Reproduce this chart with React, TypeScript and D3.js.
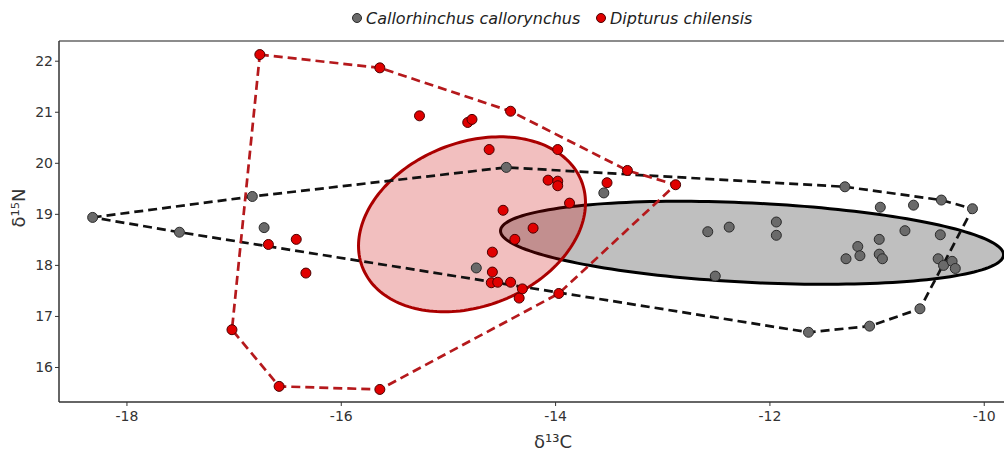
import * as d3 from 'd3';
import React from 'react';

const width = 1004;
const height = 452;
const margin = { top: 41, right: -2, bottom: 50, left: 59 };

const xTicks = [-18, -16, -14, -12, -10];
const yTicks = [16, 17, 18, 19, 20, 21, 22];

const legendLabels = ['Callorhinchus callorynchus', 'Dipturus chilensis'];

// Callorhinchus callorynchus (grey)
const callX = [
	-18.32, -17.51, -16.83, -16.72, -14.46, -14.74, -13.55, -12.58, -12.38, -11.94, -11.94,
	-12.51, -11.3, -10.97, -10.66, -10.4, -10.11, -11.18, -10.98, -10.74, -10.41, -11.29,
	-11.16, -10.98, -10.95, -10.43, -10.38, -10.3, -10.27, -10.6, -11.07, -11.64,
];
const callY = [
	18.94, 18.65, 19.35, 18.74, 19.92, 17.95, 19.42, 18.66, 18.75, 18.85, 18.59, 17.79, 19.54,
	19.14, 19.18, 19.28, 19.11, 18.37, 18.51, 18.68, 18.6, 18.13, 18.19, 18.22, 18.13, 18.13,
	18.0, 18.08, 17.94, 17.15, 16.81, 16.69,
];

// Dipturus chilensis (red)
const dipX = [
	-16.76, -15.64, -15.27, -14.82, -14.78, -14.42, -14.62, -13.98, -14.07, -13.98, -13.98,
	-13.52, -13.33, -12.88, -13.87, -14.49, -14.21, -14.38, -14.59, -14.59, -14.6, -14.54,
	-14.42, -14.31, -14.34, -13.97, -15.64, -16.68, -16.42, -16.33, -17.02, -16.58,
];
const dipY = [
	22.13, 21.87, 20.93, 20.8, 20.86, 21.02, 20.27, 20.27, 19.67, 19.65, 19.56, 19.62, 19.86,
	19.58, 19.22, 19.08, 18.73, 18.51, 18.26, 17.87, 17.66, 17.67, 17.67, 17.54, 17.36, 17.45,
	15.57, 18.41, 18.51, 17.85, 16.74, 15.63,
];

// hull vertices as drawn (indices into the arrays above)
const callHull = [0, 2, 4, 12, 15, 16, 29, 30, 31, 1];
const dipHull = [0, 1, 5, 12, 13, 25, 26, 31, 30];

// ellipses: centre x, centre y, half extent x, half extent y, correlation
const callEllipse = [-12.167, 18.443, 2.347, 0.813, -0.287];
const dipEllipse = [-14.78, 18.805, 1.059, 1.714, 0.2467];

const innerRight = width - margin.right;
const innerBottom = height - margin.bottom;

const xScale = d3.scaleLinear().domain([-18.634, -9.797]).range([margin.left, innerRight]);
const yScale = d3.scaleLinear().domain([15.324, 22.396]).range([innerBottom, margin.top]);

const lineGen = d3
	.line<[number, number]>()
	.x(d => xScale(d[0]))
	.y(d => yScale(d[1]));

const ellipsePath = (e: number[]) => {
	const [cx, cy, sx, sy, rho] = e;
	const pts: [number, number][] = d3.range(0, 180).map(i => {
		const t = (i / 180) * Math.PI * 2;
		return [cx + sx * Math.cos(t), cy + sy * (rho * Math.cos(t) + Math.sqrt(1 - rho * rho) * Math.sin(t))];
	});
	return d3.line<[number, number]>().x(d => xScale(d[0])).y(d => yScale(d[1])).curve(d3.curveLinearClosed)(pts) || '';
};

const hullPath = (xs: number[], ys: number[], idx: number[]) =>
	(lineGen(idx.map(i => [xs[i], ys[i]] as [number, number])) || '') + 'Z';

const font = '"DejaVu Sans", Verdana, sans-serif';

const App = () => {
	return (
		<svg
			width={width}
			height={height}
			style={{ position: 'absolute', left: 0, top: 0, background: '#fff' }}
			fontFamily={font}
		>
			<rect width={width} height={height} fill="#fff" />

			{/* ellipses */}
			<path d={ellipsePath(callEllipse)} fill="#808080" fillOpacity={0.5} stroke="#000" strokeWidth={3} />
			<path d={ellipsePath(dipEllipse)} fill="#cc0000" fillOpacity={0.25} stroke="#aa0000" strokeWidth={3} />

			{/* hulls */}
			<path
				d={hullPath(callX, callY, callHull)}
				fill="none"
				stroke="#111"
				strokeWidth={2.7}
				strokeDasharray="9,5"
			/>
			<path
				d={hullPath(dipX, dipY, dipHull)}
				fill="none"
				stroke="#b5191c"
				strokeWidth={2.7}
				strokeDasharray="9,5"
			/>

			{/* points */}
			{callX.map((x, i) => (
				<circle key={'c' + i} cx={xScale(x)} cy={yScale(callY[i])} r={5} fill="#6a6a6a" stroke="#2a2a2a" strokeWidth={1} />
			))}
			{dipX.map((x, i) => (
				<circle key={'d' + i} cx={xScale(x)} cy={yScale(dipY[i])} r={5} fill="#e00000" stroke="#4a0000" strokeWidth={1} />
			))}

			{/* frame */}
			<line x1={margin.left} x2={width} y1={margin.top} y2={margin.top} stroke="#666" strokeWidth={1.5} />
			<line x1={margin.left} x2={margin.left} y1={margin.top} y2={innerBottom} stroke="#333" strokeWidth={1.5} />
			<line x1={margin.left} x2={width} y1={innerBottom} y2={innerBottom} stroke="#333" strokeWidth={1.5} />

			{/* x axis */}
			{xTicks.map(t => (
				<g key={t} transform={`translate(${xScale(t)},${innerBottom})`}>
					<line y2={4} stroke="#333" />
					<text y={18.5} textAnchor="middle" fontSize={14} fill="#333">
						{t}
					</text>
				</g>
			))}
			{/* y axis */}
			{yTicks.map(t => (
				<g key={t} transform={`translate(${margin.left},${yScale(t)})`}>
					<line x2={-4} stroke="#333" />
					<text x={-6} dy=".35em" textAnchor="end" fontSize={14} fill="#333">
						{t}
					</text>
				</g>
			))}

			<text x={553} y={448} textAnchor="middle" fontSize={18} fill="#333">
				δ¹³C
			</text>
			<text transform="translate(25,208) rotate(-90)" textAnchor="middle" fontSize={18} fill="#333">
				δ¹⁵N
			</text>

			{/* legend */}
			<circle cx={357} cy={18} r={4.5} fill="#6a6a6a" stroke="#2a2a2a" />
			<text x={366} y={23.5} fontSize={16} fontStyle="italic" fill="#222">
				{legendLabels[0]}
			</text>
			<circle cx={601} cy={18} r={4.5} fill="#e00000" stroke="#4a0000" />
			<text x={610} y={23.5} fontSize={16} fontStyle="italic" fill="#222">
				{legendLabels[1]}
			</text>
		</svg>
	);
};

export default App;
